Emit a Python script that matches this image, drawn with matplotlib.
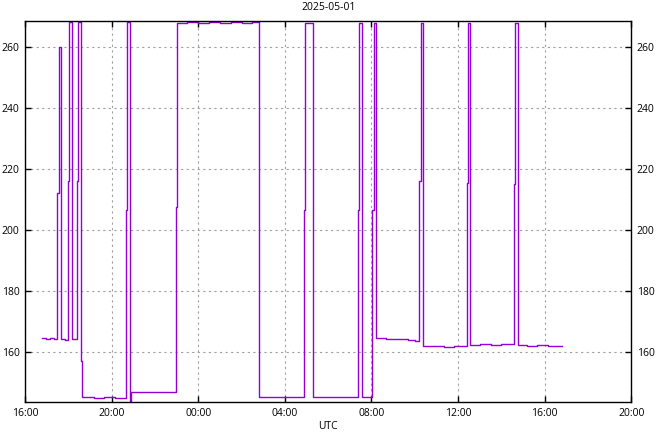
import matplotlib
matplotlib.use("Agg")
import matplotlib.pyplot as plt
import matplotlib.dates as mdates
import pandas as pd

# ---- data ----
times = [
    "2025-04-30 16:48", "2025-04-30 16:58", "2025-04-30 17:10", "2025-04-30 17:20",
    "2025-04-30 17:30", "2025-04-30 17:33", "2025-04-30 17:39", "2025-04-30 17:50",
    "2025-04-30 18:00", "2025-04-30 18:03", "2025-04-30 18:09",
    "2025-04-30 18:25", "2025-04-30 18:28", "2025-04-30 18:36", "2025-04-30 18:39",
    "2025-04-30 19:10", "2025-04-30 19:40", "2025-04-30 20:10",
    "2025-04-30 20:40", "2025-04-30 20:43", "2025-04-30 20:52", "2025-04-30 20:55",
    "2025-04-30 21:30", "2025-04-30 22:00", "2025-04-30 22:30",
    "2025-04-30 22:58", "2025-04-30 23:01", "2025-04-30 23:30",
    "2025-05-01 00:00", "2025-05-01 00:30", "2025-05-01 01:00", "2025-05-01 01:30",
    "2025-05-01 02:00", "2025-05-01 02:30",
    "2025-05-01 02:49", "2025-05-01 03:30", "2025-05-01 04:10",
    "2025-05-01 04:53", "2025-05-01 04:57", "2025-05-01 05:17", "2025-05-01 05:19",
    "2025-05-01 06:00", "2025-05-01 06:40",
    "2025-05-01 07:24", "2025-05-01 07:26", "2025-05-01 07:33",
    "2025-05-01 08:02", "2025-05-01 08:06", "2025-05-01 08:12", "2025-05-01 08:13",
    "2025-05-01 08:40", "2025-05-01 09:10", "2025-05-01 09:40", "2025-05-01 10:00",
    "2025-05-01 10:13", "2025-05-01 10:16", "2025-05-01 10:23",
    "2025-05-01 10:50", "2025-05-01 11:20", "2025-05-01 11:50",
    "2025-05-01 12:26", "2025-05-01 12:28", "2025-05-01 12:34",
    "2025-05-01 13:00", "2025-05-01 13:30", "2025-05-01 14:00",
    "2025-05-01 14:34", "2025-05-01 14:37", "2025-05-01 14:47",
    "2025-05-01 15:10", "2025-05-01 15:40", "2025-05-01 16:10", "2025-05-01 16:47",
]
values = [
    164.5, 164.3, 164.6, 164.2,
    212.0, 260.0, 164.2, 164.0,
    216.0, 268.0, 164.3,
    216.0, 268.0, 157.0, 145.2,
    145.0, 145.3, 145.0,
    206.6, 268.0, 143.8, 146.8,
    147.0, 146.8, 147.0,
    207.5, 267.9, 268.2,
    267.6, 268.0, 267.7, 268.1,
    267.8, 268.0,
    145.3, 145.1, 145.4,
    206.6, 267.9, 206.6, 145.3,
    145.1, 145.3,
    206.6, 267.9, 145.4,
    206.6, 267.9, 215.8, 164.5,
    164.2, 164.3, 163.9, 163.6,
    216.0, 267.9, 162.0,
    161.8, 161.6, 161.9,
    215.2, 267.9, 162.4,
    162.6, 162.3, 162.5,
    215.0, 267.9, 162.3,
    162.0, 162.2, 161.9, 162.0,
]
title = "2025-05-01"
xlabel = "UTC"
yticks = [160, 180, 200, 220, 240, 260]

t = pd.to_datetime(times)

plt.rcParams['font.family'] = ['Open Sans', 'DejaVu Sans']
fig = plt.figure(figsize=(6.58, 4.32), dpi=100)
ax = fig.add_axes([25 / 658, 30 / 432, (631.3 - 25) / 658, (402 - 21) / 432])

ax.plot(t, values, drawstyle="steps-post", color="#9400D3", lw=1.0)

ax.set_xlim(pd.Timestamp("2025-04-30 16:00"), pd.Timestamp("2025-05-01 20:00"))
ax.set_ylim(143.6, 268.4)
ax.xaxis.set_major_locator(mdates.HourLocator(byhour=range(0, 24, 4)))
ax.xaxis.set_major_formatter(mdates.DateFormatter("%H:%M"))
ax.set_yticks(yticks)

ax.grid(True, color="#a0a0a0", linestyle=(0, (2, 3)), linewidth=0.8)
ax.tick_params(direction="in", length=4, width=1, top=True, right=True,
               labelright=True, labelsize=7.5, colors="black", pad=4)
for s in ax.spines.values():
    s.set_linewidth(1.0)

ax.set_title(title, fontsize=7.5, pad=8)
ax.set_xlabel(xlabel, fontsize=7.5, labelpad=1.5)

fig.savefig("out.png", dpi=100)
